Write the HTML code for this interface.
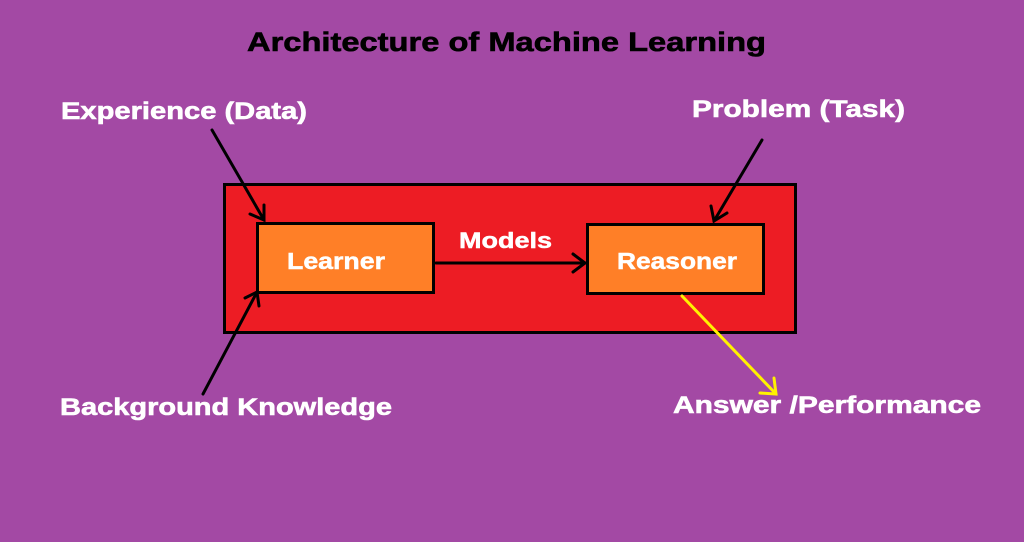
<!DOCTYPE html>
<html><head><meta charset="utf-8"><style>
html,body{margin:0;padding:0;background:#A349A4;}
svg{display:block}
text{font-family:"Liberation Sans",sans-serif;font-weight:bold;}
</style></head><body>
<svg width="1024" height="542" viewBox="0 0 1024 542" xmlns="http://www.w3.org/2000/svg">
<rect width="1024" height="542" fill="#A349A4"/>
<text x="247" y="51" font-size="27" fill="#000" stroke="#000" stroke-width="0.6" textLength="519" lengthAdjust="spacingAndGlyphs">Architecture of Machine Learning</text>
<g fill="#fff" stroke="#fff" stroke-width="0.6">
<text x="61" y="119" font-size="24" textLength="246" lengthAdjust="spacingAndGlyphs">Experience (Data)</text>
<text x="692" y="117" font-size="24" textLength="213" lengthAdjust="spacingAndGlyphs">Problem (Task)</text>
<text x="60" y="415" font-size="24" textLength="332" lengthAdjust="spacingAndGlyphs">Background Knowledge</text>
<text x="673" y="413" font-size="24" textLength="308" lengthAdjust="spacingAndGlyphs">Answer /Performance</text>
</g>
<rect x="224.5" y="184.5" width="571" height="148" fill="#ED1C24" stroke="#000" stroke-width="3"/>
<rect x="257.5" y="223.5" width="176" height="69" fill="#FF7F27" stroke="#000" stroke-width="3"/>
<rect x="587.5" y="224.5" width="176" height="69" fill="#FF7F27" stroke="#000" stroke-width="3"/>
<g fill="#fff" stroke="#fff" stroke-width="0.5">
<text x="287" y="269" font-size="23" textLength="98" lengthAdjust="spacingAndGlyphs">Learner</text>
<text x="617" y="269" font-size="23" textLength="120" lengthAdjust="spacingAndGlyphs">Reasoner</text>
<text x="459" y="248" font-size="22" textLength="93" lengthAdjust="spacingAndGlyphs">Models</text>
</g>
<g stroke="#000" stroke-width="3" fill="none" stroke-linecap="round">
<line x1="212" y1="130" x2="264" y2="220"/><polyline points="250,214 264,220 264,205"/>
<line x1="203" y1="394" x2="257" y2="292"/><polyline points="245,298 257,292 259,306"/>
<line x1="762" y1="140" x2="714" y2="221"/><polyline points="711,206 714,221 727,213"/>
<line x1="436" y1="263" x2="585" y2="263"/><polyline points="573,254 585,263 573,272"/>
</g>
<g stroke="#FFF200" stroke-width="3" fill="none" stroke-linecap="round">
<line x1="682" y1="296" x2="776" y2="394"/><polyline points="774,378 776,394 760,393"/>
</g>
</svg>
</body></html>
